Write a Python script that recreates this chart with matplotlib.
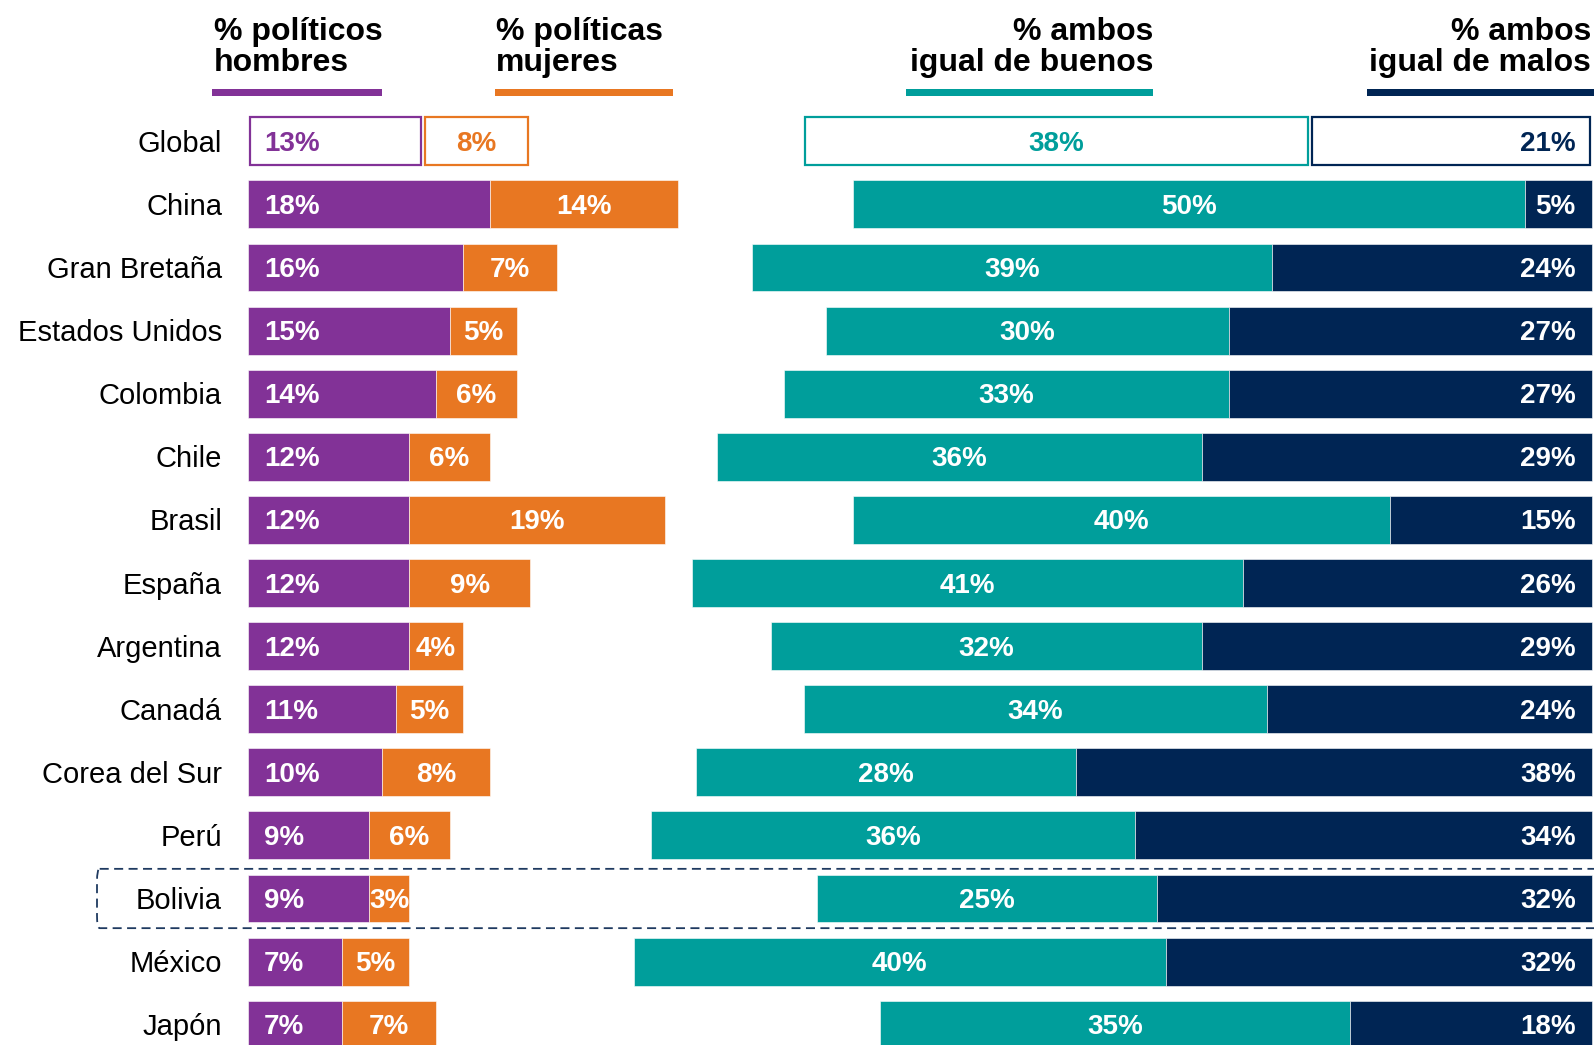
import numpy as np
import matplotlib
matplotlib.use("Agg")
import matplotlib.pyplot as plt
from matplotlib.patches import Rectangle, FancyBboxPatch

plt.rcParams['font.family'] = ['Liberation Sans', 'DejaVu Sans']

# data (bar lengths in %, labels are the rounded values)
countries = ['Global', 'China', 'Gran Bretaña', 'Estados Unidos', 'Colombia', 'Chile',
             'Brasil', 'España', 'Argentina', 'Canadá', 'Corea del Sur', 'Perú',
             'Bolivia', 'México', 'Japón']
hombres = [13, 18, 16, 15, 14, 12, 12, 12, 12, 11, 10, 9, 9, 7, 7]
mujeres = [8, 14, 7, 5, 6, 6, 19, 9, 4, 5, 8, 6, 3, 5, 7]
buenos = [37.7, 50.0, 38.7, 30.0, 33.1, 36.1, 40.0, 41.0, 32.1, 34.4, 28.3, 36.0, 25.3, 39.6, 35.0]
malos = [21.0, 5.0, 23.8, 27.0, 27.0, 29.0, 15.0, 26.0, 29.0, 24.2, 38.4, 34.0, 32.4, 31.7, 18.0]
highlight = 'Bolivia'

PURPLE = '#823297'
ORANGE = '#E87722'
TEAL = '#009E9B'
NAVY = '#002554'

W, H = 1594, 1045
fig = plt.figure(figsize=(W / 100, H / 100), dpi=100)
ax = fig.add_axes([0, 0, 1, 1])
ax.axis('off')

# 1% = 13.44 px, row pitch = 63.1 px
x0_px, pct_px = 248, 13.44
y0_px, row_px = 141.3, 63.1
ax.set_xlim(-x0_px / pct_px, (W - x0_px) / pct_px)
ax.set_ylim(14 + (H - (y0_px + 14 * row_px)) / row_px, -y0_px / row_px)


def xd(px):
    return (px - x0_px) / pct_px


def yd(px):
    return (px - y0_px) / row_px


h = 0.76
n = len(countries)
y = np.arange(n)
hom = np.array(hombres)
muj = np.array(mujeres)
bue = np.array(buenos)
mal = np.array(malos)
right_start = 100 - (bue + mal)

lab_kw = dict(fontsize=20, fontweight='bold', va='center')
inset = 0.15
dy = 0.04  # nudge text to the optical centre of the bar

for i in range(n):
    segs = [(0, hom[i], PURPLE), (hom[i], muj[i], ORANGE),
            (right_start[i], bue[i], TEAL), (right_start[i] + bue[i], mal[i], NAVY)]
    if i == 0:
        for left, w, c in segs:
            ax.add_patch(Rectangle((left + inset, i - h / 2), w - 2 * inset, h,
                                   facecolor='white', edgecolor=c, linewidth=1.6))
        tc = [PURPLE, ORANGE, TEAL, NAVY]
    else:
        for left, w, c in segs:
            ax.barh(i, w, left=left, height=h, color=c, edgecolor='white', linewidth=0.4)
        tc = ['white'] * 4
    ty = i + dy
    ax.text(1.2, ty, f'{hom[i]:.0f}%', color=tc[0], ha='left', **lab_kw)
    ax.text(hom[i] + muj[i] / 2, ty, f'{muj[i]:.0f}%', color=tc[1], ha='center', **lab_kw)
    ax.text(right_start[i] + bue[i] / 2, ty, f'{bue[i]:.0f}%', color=tc[2], ha='center', **lab_kw)
    ax.text(100 - 1.2, ty, f'{mal[i]:.0f}%', color=tc[3], ha='right', **lab_kw)
    ax.text(xd(222), ty, countries[i], ha='right', va='center', fontsize=21, color='black')

# dashed highlight box, runs off the right edge
bi = countries.index(highlight)
ax.add_patch(FancyBboxPatch((xd(97), bi - 0.47), 125, 0.94,
                            boxstyle='round,pad=0,rounding_size=0.2',
                            fill=False, edgecolor='#1F3A60', linestyle=(0, (5, 3)),
                            linewidth=1.3))

# headers with coloured underlines
head_kw = dict(fontsize=23, fontweight='bold', va='center', linespacing=1.05)
heads = [('% políticos\nhombres', 214, 'left', 212, 382, PURPLE),
         ('% políticas\nmujeres', 496, 'left', 495, 673, ORANGE),
         ('% ambos\nigual de buenos', 1153, 'right', 906, 1153, TEAL),
         ('% ambos\nigual de malos', 1591, 'right', 1367, 1594, NAVY)]
for txt, tx, ha, u0, u1, c in heads:
    ax.text(xd(tx), yd(47.5), txt, ha=ha, multialignment=ha, **head_kw)
    ax.add_patch(Rectangle((xd(u0), yd(89)), xd(u1) - xd(u0), 7 / row_px,
                           facecolor=c, edgecolor='none'))

fig.savefig('out.png', dpi=100)
